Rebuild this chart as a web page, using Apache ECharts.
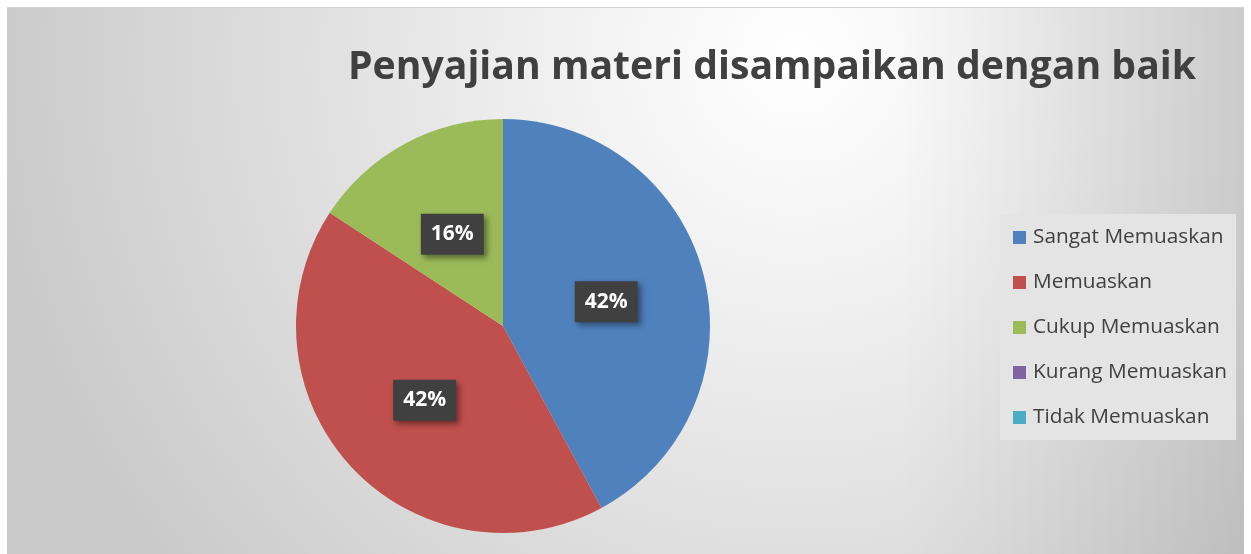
<!DOCTYPE html>
<html>
<head>
<meta charset="utf-8">
<script src="https://cdn.jsdelivr.net/npm/echarts@6/dist/echarts.min.js"></script>
<style>
  html, body { margin: 0; padding: 0; background: #fff; }
  #chart { position: absolute; left: 7px; top: 7px; width: 1237px; height: 547px; border-top: 1px solid #d4d4d4; }
</style>
</head>
<body>
<div id="chart"></div>
<script>
// survey answers (counts), read from the 42% / 42% / 16% split
const categories = ['Sangat Memuaskan', 'Memuaskan', 'Cukup Memuaskan', 'Kurang Memuaskan', 'Tidak Memuaskan']
const counts = [8, 8, 3, 0, 0]
const colors = ['#4F81BD', '#C0504D', '#9BBB59', '#8064A2', '#4BACC6']

const chart = echarts.init(document.getElementById('chart'))
chart.setOption({
  backgroundColor: {
    type: 'radial',
    global: true,
    x: 790,
    y: 50,
    r: 820,
    colorStops: [
      { offset: 0, color: '#ffffff' },
      { offset: 0.3, color: '#f0f0f0' },
      { offset: 1, color: '#c9c9c9' }
    ]
  },
  graphic: [
    {
      type: 'rect',
      silent: true,
      z: -10,
      shape: { x: 0, y: 0, width: 1237, height: 547 },
      style: {
        fill: {
          type: 'linear',
          x: 0, y: 0, x2: 1, y2: 0,
          colorStops: [
            { offset: 0, color: 'rgba(0,0,0,0)' },
            { offset: 0.72, color: 'rgba(0,0,0,0)' },
            { offset: 1, color: 'rgba(0,0,0,0.1)' }
          ]
        }
      }
    }
  ],
  title: {
    text: 'Penyajian materi disampaikan dengan baik',
    left: 760,
    top: 35,
    textAlign: 'center',
    textStyle: {
      fontFamily: 'Open Sans',
      fontWeight: 'bold',
      fontSize: 39.2,
      color: '#404040'
    }
  },
  legend: {
    orient: 'vertical',
    left: 993,
    top: 206,
    data: categories,
    icon: 'rect',
    itemWidth: 13,
    itemHeight: 13,
    itemGap: 24,
    padding: [13, 9, 12, 13],
    backgroundColor: '#e4e4e4',
    textStyle: {
      fontFamily: 'Open Sans',
      fontSize: 20.8,
      lineHeight: 20,
      color: '#404040',
      padding: [0, 0, 0, 2]
    }
  },
  series: [
    {
      type: 'pie',
      center: [496, 318],
      radius: 207,
      startAngle: 90,
      clockwise: true,
      silent: true,
      color: colors,
      data: categories.map((name, i) => ({
        name: name,
        value: counts[i],
        label: { show: counts[i] > 0 }
      })),
      label: {
        position: 'inside',
        formatter: p => Math.round(p.percent) + '%',
        fontFamily: 'Open Sans',
        fontWeight: 'bold',
        fontSize: 21,
        lineHeight: 24,
        color: '#ffffff',
        backgroundColor: '#404040',
        padding: [9, 10, 8, 10],
        offset: [0, 2],
        shadowColor: 'rgba(0,0,0,0.45)',
        shadowBlur: 6,
        shadowOffsetX: 3,
        shadowOffsetY: 3
      },
      labelLine: { show: false }
    }
  ]
})
</script>
</body>
</html>
